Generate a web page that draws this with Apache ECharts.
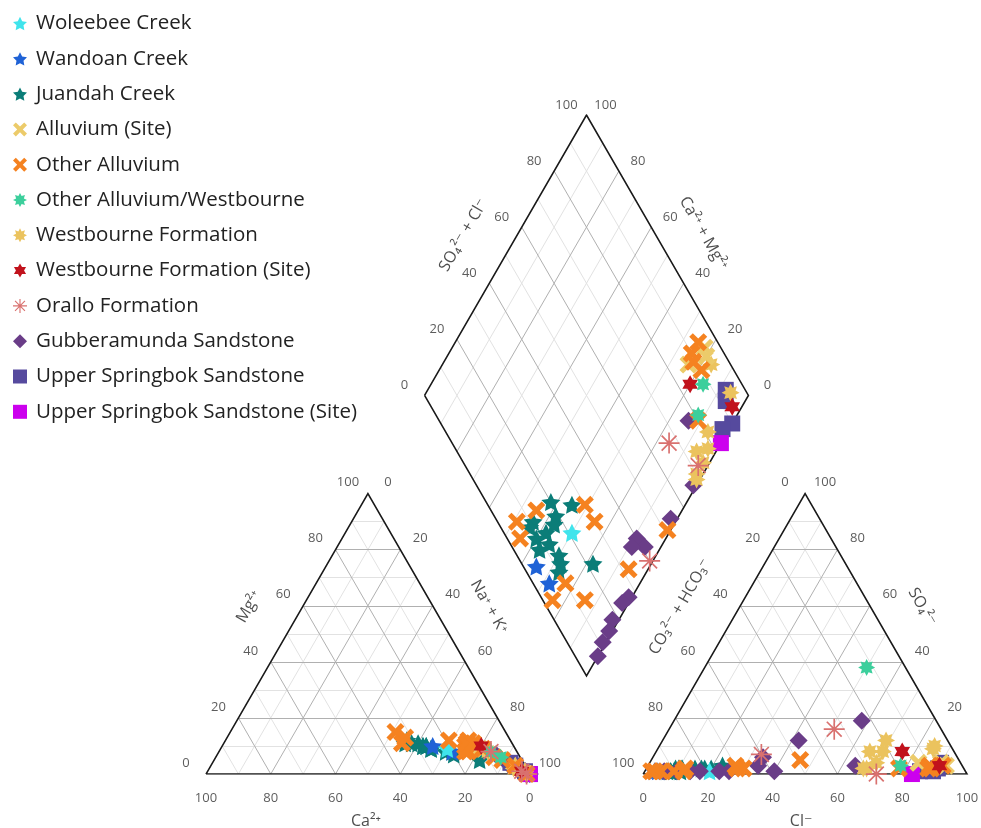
<!DOCTYPE html>
<html>
<head>
<meta charset="utf-8">
<script src="https://cdn.jsdelivr.net/npm/echarts@6/dist/echarts.min.js"></script>
<style>
  html, body { margin: 0; padding: 0; background: #fff; }
  #chart { width: 981px; height: 828px; }
</style>
</head>
<body>
<div id="chart"></div>
<script>
// Piper diagram: cation triangle (left), anion triangle (right), projection diamond (top).
// Each sample row: [Ca, Mg, Na+K, CO3+HCO3, SO4, Cl] in % meq.

const groupNames = [
  'Woleebee Creek', 'Wandoan Creek', 'Juandah Creek', 'Alluvium (Site)', 'Other Alluvium',
  'Other Alluvium/Westbourne', 'Westbourne Formation', 'Westbourne Formation (Site)',
  'Orallo Formation', 'Gubberamunda Sandstone', 'Upper Springbok Sandstone',
  'Upper Springbok Sandstone (Site)'
];

const woleebeeCreek = [
  [21, 9, 70, 79, 1, 20]
];
const wandoanCreek = [
  [25, 10, 65, 96, 1, 3],
  [20, 8, 72, 95, 1, 4]
];
const juandahCreek = [
  [31, 11, 58, 80, 2, 18],
  [26, 9, 65, 74, 3, 23],
  [32, 12, 56, 89, 2, 9],
  [28, 10, 62, 81, 2, 17],
  [28, 10, 62, 87, 2, 11],
  [29, 11, 60, 91, 1, 8],
  [26, 9, 65, 88, 1, 11],
  [27, 10, 63, 92, 1, 7],
  [22, 8, 70, 87, 2, 11],
  [20, 8, 72, 88, 2, 10],
  [20, 7, 73, 90, 1, 9],
  [13, 5, 82, 78, 2, 20],
  [27, 10, 63, 83, 2, 15],
  [33, 11, 56, 91, 1, 8]
];
const alluviumSite = [
  [11, 9, 80, 6, 4, 90],
  [14, 10, 76, 13, 4, 83],
  [13, 9, 78, 5, 3, 92]
];
const otherAlluvium = [
  [32, 13, 55, 86, 2, 12],
  [34, 15, 51, 94, 1, 5],
  [34, 11, 55, 96, 1, 3],
  [19, 12, 69, 70, 3, 27],
  [15, 10, 75, 70, 2, 28],
  [15, 8, 77, 90, 1, 9],
  [16, 8, 76, 97, 1, 2],
  [8, 6, 86, 87, 1, 12],
  [3, 3, 94, 68, 2, 30],
  [1, 0, 99, 49, 5, 46],
  [13, 12, 75, 6, 3, 91],
  [14, 11, 75, 10, 3, 87],
  [10, 9, 81, 10, 2, 88],
  [12, 11, 77, 11, 2, 87],
  [6, 5, 89, 20, 2, 78]
];
const otherAlluviumWestbourne = [
  [8, 8, 84, 12, 38, 50],
  [6, 6, 88, 19, 3, 78]
];
const westbourneFormation = [
  [9, 8, 83, 6, 9, 85],
  [3, 3, 94, 5, 10, 85],
  [3, 3, 94, 19, 12, 69],
  [4, 2, 94, 26, 8, 66],
  [1, 1, 98, 26, 4, 70],
  [1, 1, 98, 30, 2, 68],
  [2, 1, 97, 22, 8, 70],
  [1, 0, 99, 31, 2, 67]
];
const westbourneFormationSite = [
  [10, 10, 80, 16, 8, 76],
  [2, 1, 97, 7, 3, 90]
];
const oralloFormation = [
  [1, 0, 99, 60, 7, 33],
  [8, 8, 84, 33, 16, 51],
  [2, 1, 97, 28, 0, 72]
];
const gubberamundaSandstone = [
  [1, 1, 98, 46, 12, 42],
  [5, 4, 91, 60, 6, 34],
  [3, 2, 95, 59, 1, 40],
  [5, 4, 91, 63, 3, 34],
  [1, 0, 99, 73, 1, 26],
  [1, 1, 98, 76, 1, 23],
  [1, 1, 98, 82, 1, 17],
  [1, 0, 99, 85, 1, 14],
  [1, 0, 99, 89, 1, 10],
  [0, 0, 100, 93, 1, 6],
  [1, 0, 99, 33, 3, 64],
  [7, 7, 86, 23, 19, 58]
];
const upperSpringbok = [
  [4, 4, 92, 6, 4, 90],
  [3, 3, 94, 8, 2, 90],
  [0, 0, 100, 10, 1, 89],
  [1, 1, 98, 14, 1, 85]
];
const upperSpringbokSite = [
  [0, 0, 100, 17, 0, 83]
];

const tickValues = [0, 20, 40, 60, 80, 100];
const majorGrid = [20, 40, 60, 80];
const minorGrid = [10, 30, 50, 70, 90];

// ---- geometry (side of each triangle = 100 units) ----
const GAP = 35;
const H = Math.sqrt(3) / 2;
const X_MAX = 200 + GAP;
const Y_MAX = GAP * H + 200 * H;
const GRID = { left: 206, top: 115, width: 761 };
GRID.height = GRID.width * Y_MAX / X_MAX;
const PX = GRID.width / X_MAX; // pixels per unit

function cat(ca, mg, na) { return [na + mg * 0.5, mg * H]; }
function ani(hc, so4, cl) { return [100 + GAP + cl + so4 * 0.5, so4 * H]; }
function dia(na, sc) {
  return [50 + GAP / 2 + 0.5 * na + 0.5 * sc, GAP * H + 100 * H - na * H + sc * H];
}
function shift(p, dx, dy) { return [p[0] + dx / PX, p[1] - dy / PX]; }

// ---- symbols ----
const STAR5 = 'path://M0,-10 L2.94,-4.05 L9.51,-3.09 L4.76,1.55 L5.88,8.09 L0,5 L-5.88,8.09 L-4.76,1.55 L-9.51,-3.09 L-2.94,-4.05 Z';
const CROSS = 'path://M-10,-6 L-6,-10 L0,-4 L6,-10 L10,-6 L4,0 L10,6 L6,10 L0,4 L-6,10 L-10,6 L-4,0 Z';
const BURST8 = 'path://M0,-10 L2.3,-5.54 L7.07,-7.07 L5.54,-2.3 L10,0 L5.54,2.3 L7.07,7.07 L2.3,5.54 L0,10 L-2.3,5.54 L-7.07,7.07 L-5.54,2.3 L-10,0 L-5.54,-2.3 L-7.07,-7.07 L-2.3,-5.54 Z';
const STAR6 = 'path://M0,-10 L2.9,-5.02 L8.66,-5 L5.8,0 L8.66,5 L2.9,5.02 L0,10 L-2.9,5.02 L-8.66,5 L-5.8,0 L-8.66,-5 L-2.9,-5.02 Z';
const ASTER = 'path://M-10,-0.8 L10,-0.8 L10,0.8 L-10,0.8 Z M0.8,-10 L0.8,10 L-0.8,10 L-0.8,-10 Z M-6.5,-7.64 L7.64,6.5 L6.5,7.64 L-7.64,-6.5 Z M-7.64,6.5 L6.5,-7.64 L7.64,-6.5 L-6.5,7.64 Z';

const groups = [
  // draw order (later on top)
  { name: 'Juandah Creek', rows: juandahCreek, color: '#0b7d78', symbol: STAR5, size: 19 },
  { name: 'Wandoan Creek', rows: wandoanCreek, color: '#1f62d6', symbol: STAR5, size: 19 },
  { name: 'Woleebee Creek', rows: woleebeeCreek, color: '#40e4ec', symbol: STAR5, size: 19 },
  { name: 'Gubberamunda Sandstone', rows: gubberamundaSandstone, color: '#6a3d88', symbol: 'diamond', size: 18 },
  { name: 'Upper Springbok Sandstone', rows: upperSpringbok, color: '#564a9e', symbol: 'rect', size: 16 },
  { name: 'Upper Springbok Sandstone (Site)', rows: upperSpringbokSite, color: '#cc00ee', symbol: 'rect', size: 16 },
  { name: 'Westbourne Formation', rows: westbourneFormation, color: '#ebc35e', symbol: BURST8, size: 18 },
  { name: 'Alluvium (Site)', rows: alluviumSite, color: '#eccb6a', symbol: CROSS, size: 18 },
  { name: 'Other Alluvium', rows: otherAlluvium, color: '#f58220', symbol: CROSS, size: 18 },
  { name: 'Westbourne Formation (Site)', rows: westbourneFormationSite, color: '#c1121c', symbol: STAR6, size: 18 },
  { name: 'Other Alluvium/Westbourne', rows: otherAlluviumWestbourne, color: '#3ccf9c', symbol: BURST8, size: 17 },
  { name: 'Orallo Formation', rows: oralloFormation, color: '#d9716f', symbol: ASTER, size: 21 }
];

function projectRows(rows) {
  const pts = [];
  rows.forEach(r => {
    const [ca, mg, na, hc, so4, cl] = r;
    pts.push(cat(ca, mg, na));
    pts.push(ani(hc, so4, cl));
    pts.push(dia(na, so4 + cl));
  });
  return pts;
}

// ---- grid lines ----
function gridSegments(values) {
  const segs = [];
  values.forEach(v => {
    segs.push([cat(100 - v, v, 0), cat(0, v, 100 - v)]);
    segs.push([cat(100 - v, 0, v), cat(0, 100 - v, v)]);
    segs.push([cat(v, 0, 100 - v), cat(v, 100 - v, 0)]);
    segs.push([ani(100 - v, v, 0), ani(0, v, 100 - v)]);
    segs.push([ani(100 - v, 0, v), ani(0, 100 - v, v)]);
    segs.push([ani(v, 0, 100 - v), ani(v, 100 - v, 0)]);
    segs.push([dia(v, 0), dia(v, 100)]);
    segs.push([dia(0, v), dia(100, v)]);
  });
  return segs.map(c => ({ coords: c }));
}

const outlines = [
  [cat(100, 0, 0), cat(0, 0, 100), cat(0, 100, 0), cat(100, 0, 0)],
  [ani(100, 0, 0), ani(0, 0, 100), ani(0, 100, 0), ani(100, 0, 0)],
  [dia(0, 0), dia(100, 0), dia(100, 100), dia(0, 100), dia(0, 0)]
].map(c => ({ coords: c }));

// ---- tick labels ----
const tickItems = [];
function addTick(p, text, dx, dy) {
  tickItems.push({ name: String(text), value: shift(p, dx, dy) });
}
tickValues.forEach(v => {
  addTick(cat(v, 0, 100 - v), v, 0, 24);
  addTick(cat(100 - v, v, 0), v, -20, -11);
  addTick(cat(0, 100 - v, v), v, 20, -11);
  addTick(ani(100 - v, 0, v), v, 0, 24);
  addTick(ani(v, 100 - v, 0), v, -20, -11);
  addTick(ani(0, v, 100 - v), v, 20, -11);
  addTick(dia(0, v), v, -20, -10);
  addTick(dia(100 - v, 100), v, 19, -10);
});

// ---- axis titles ----
const titleItems = [
  { name: 'Ca²⁺', value: shift(cat(50, 0, 50), -2, 47), rot: 0 },
  { name: 'Cl⁻', value: shift(ani(50, 0, 50), -4, 47), rot: 0 },
  { name: 'Mg²⁺', value: shift(cat(50, 50, 0), -38, -27), rot: 60 },
  { name: 'Na⁺ + K⁺', value: shift(cat(0, 50, 50), 40, -27), rot: -60 },
  { name: 'SO₄²⁻ + Cl⁻', value: shift(dia(0, 50), -42, -20), rot: 60 },
  { name: 'Ca²⁺ + Mg²⁺', value: shift(dia(50, 100), 36, -22), rot: -60 },
  { name: 'CO₃²⁻ + HCO₃⁻', value: shift(ani(50, 50, 0), -44, -27), rot: 60 },
  { name: 'SO₄²⁻', value: shift(ani(0, 50, 50), 36, -27), rot: -60 }
].map(t => ({ name: t.name, value: t.value, label: { rotate: t.rot } }));

const FONT = '"Open Sans", "DejaVu Sans", sans-serif';

const series = [
  {
    type: 'lines', coordinateSystem: 'cartesian2d', silent: true, z: 1,
    lineStyle: { color: '#e2e2e2', width: 1, opacity: 1 },
    data: gridSegments(minorGrid)
  },
  {
    type: 'lines', coordinateSystem: 'cartesian2d', silent: true, z: 2,
    lineStyle: { color: '#b0b0b0', width: 1, opacity: 1 },
    data: gridSegments(majorGrid)
  },
  {
    type: 'lines', coordinateSystem: 'cartesian2d', polyline: true, silent: true, z: 3,
    lineStyle: { color: '#1a1a1a', width: 1.6, opacity: 1 },
    data: outlines
  }
];

groups.forEach(g => {
  series.push({
    name: g.name,
    type: 'scatter',
    z: 5,
    clip: false,
    symbol: g.symbol,
    symbolSize: g.size,
    symbolKeepAspect: true,
    itemStyle: { color: g.color, opacity: 1 },
    data: projectRows(g.rows)
  });
});

series.push({
  type: 'scatter', silent: true, z: 10, clip: false,
  symbolSize: 1, itemStyle: { color: 'rgba(0,0,0,0)' },
  label: {
    show: true, position: 'inside', formatter: '{b}',
    color: '#333', fontSize: 13, fontFamily: FONT
  },
  data: tickItems
});
series.push({
  type: 'scatter', silent: true, z: 10, clip: false,
  symbolSize: 1, itemStyle: { color: 'rgba(0,0,0,0)' },
  label: {
    show: true, position: 'inside', formatter: '{b}',
    color: '#222', fontSize: 16, fontFamily: FONT
  },
  data: titleItems
});

const chart = echarts.init(document.getElementById('chart'), null, { renderer: 'canvas' });
chart.setOption({
  animation: false,
  backgroundColor: '#ffffff',
  grid: { left: GRID.left, top: GRID.top, width: GRID.width, height: GRID.height },
  xAxis: { type: 'value', min: 0, max: X_MAX, show: false },
  yAxis: { type: 'value', min: 0, max: Y_MAX, show: false },
  legend: {
    data: groupNames,
    orient: 'vertical',
    left: 8,
    top: 8,
    itemWidth: 14,
    itemHeight: 14,
    itemGap: 14.3,
    textStyle: { fontSize: 20.5, color: '#222', fontFamily: FONT, padding: [0, 0, 0, 4] },
    selectedMode: false
  },
  series: series
});
</script>
</body>
</html>
